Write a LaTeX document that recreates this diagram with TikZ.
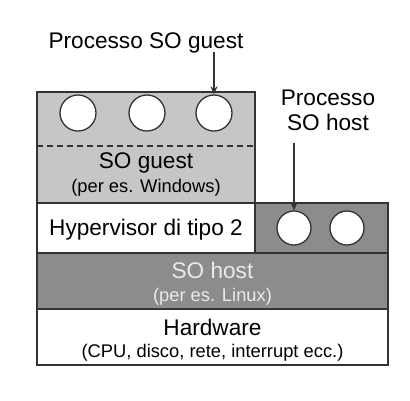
\documentclass[tikz,border=0pt]{standalone}
\usepackage{fontspec}
\setmainfont{Liberation Sans}
\usetikzlibrary{arrows.meta,positioning}
\definecolor{guestgray}{HTML}{C6C6C6}
\definecolor{hostgray}{HTML}{8C8C8C}
\definecolor{edgegray}{HTML}{333333}
\definecolor{hosttext}{HTML}{EAEAEA}

\tikzset{
	layer/.style={draw=edgegray,line width=1.3bp,inner sep=0pt},
	proc/.style={circle,draw=edgegray,line width=1.3bp,fill=white,inner sep=0pt},
	pointer/.style={-{Stealth[length=8bp,width=7bp]},draw=edgegray,line width=1.3bp},
	bigtxt/.style={font=\fontsize{22.7}{24}\selectfont,inner sep=0pt},
	smalltxt/.style={font=\fontsize{18.4}{20}\selectfont,inner sep=0pt},
}

\begin{document}
\begin{tikzpicture}[x=1bp,y=-1bp]
		\useasboundingbox (0,0) rectangle (410,401);
		
		% strati
		\node[layer,fill=guestgray,minimum width=218bp,minimum height=111bp] (guest) at (146,147.5) {};
		\node[layer,fill=white,minimum width=218bp,minimum height=50bp] (hyp) at (146,228) {};
		\node[layer,fill=hostgray,minimum width=133bp,minimum height=50bp] (hproc) at (321.5,228) {};
		\node[layer,fill=hostgray,minimum width=351bp,minimum height=56bp] (host) at (212.5,281) {};
		\node[layer,fill=white,minimum width=351bp,minimum height=56bp] (hw) at (212.5,337) {};
		\draw[edgegray,line width=1.3bp,dashed,dash pattern=on 6bp off 4bp] (37,146) -- (255,146);
		
		% processi
		\foreach \x/\n in {78/g1,147/g2,214/g3}
			\node[proc,minimum size=36bp] (\n) at (\x,113) {};
		\foreach \x/\n in {294/h1,347/h2}
			\node[proc,minimum size=34bp] (\n) at (\x,228) {};
		
		% testi
		\node[bigtxt] (tguest) at (146,163) {SO guest};
		\node[smalltxt] (tguest2) at (146,188) {(per es. Windows)};
		\node[bigtxt] (thyp) at (146,230) {Hypervisor di tipo 2};
		\node[bigtxt,text=hosttext] (thost) at (212.5,270) {SO host};
		\node[smalltxt,text=hosttext] (thost2) at (212.5,297) {(per es. Linux)};
		\node[bigtxt] (thw) at (212.5,327) {Hardware};
		\node[smalltxt] (thw2) at (212.5,353) {(CPU, disco, rete, interrupt ecc.)};
		
		% etichette
		\node[bigtxt] (pguest) at (146,43) {Processo SO guest};
		\node[bigtxt,align=center] (phost) at (328,110) {Processo\\[1bp]SO host};
		\coordinate (ag) at (214,52);
		\coordinate (ah) at (294,143);
		\draw[pointer] (ag) -- (g3.north);
		\draw[pointer] (ah) -- (h1.north);
	\end{tikzpicture}
\end{document}
